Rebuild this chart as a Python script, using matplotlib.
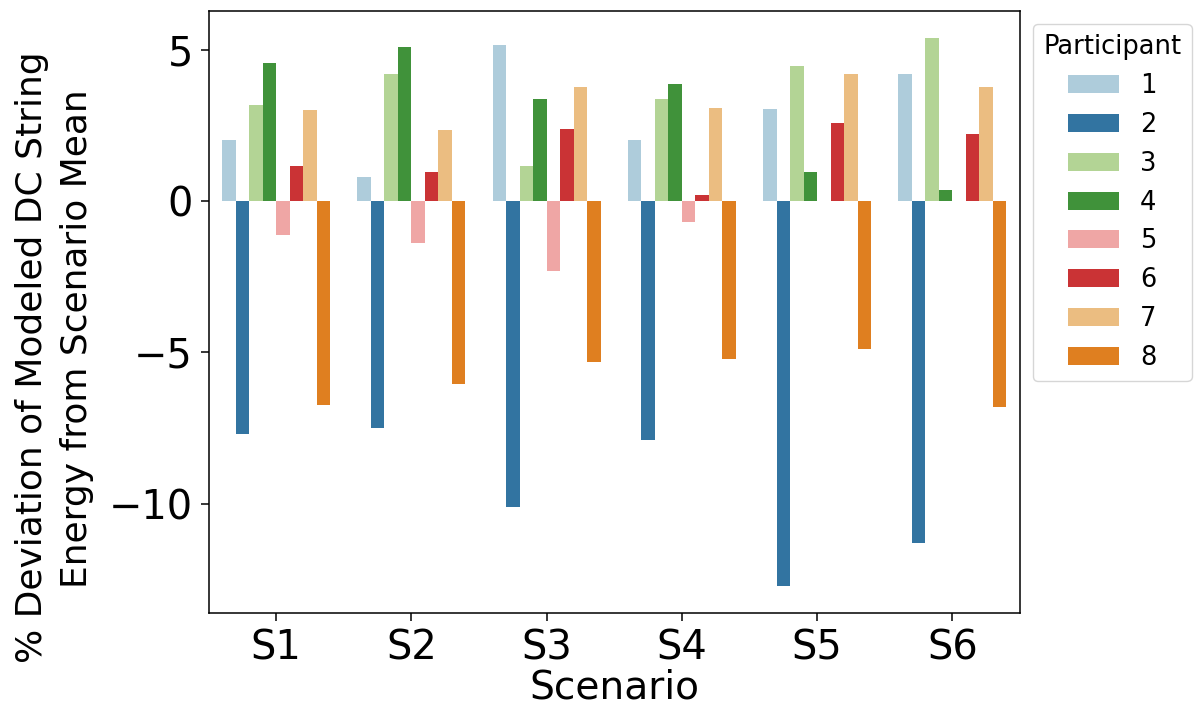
import numpy as np
import pandas as pd
import matplotlib
matplotlib.use("Agg")
import matplotlib.pyplot as plt
import seaborn as sns

scenarios = ["S1", "S2", "S3", "S4", "S5", "S6"]
participants = ["1", "2", "3", "4", "5", "6", "7", "8"]

# deviation (%) per participant, one value per scenario
p1 = [2.0, 0.8, 5.15, 2.0, 3.05, 4.2]
p2 = [-7.68, -7.48, -10.12, -7.9, -12.7, -11.3]
p3 = [3.17, 4.2, 1.17, 3.38, 4.46, 5.37]
p4 = [4.56, 5.1, 3.38, 3.86, 0.95, 0.36]
p5 = [-1.13, -1.4, -2.3, -0.7, np.nan, np.nan]
p6 = [1.17, 0.95, 2.37, 0.21, 2.58, 2.2]
p7 = [3.0, 2.36, 3.75, 3.06, 4.19, 3.75]
p8 = [-6.73, -6.03, -5.33, -5.22, -4.9, -6.79]

ylabel_lines = ["% Deviation of Modeled DC String", "Energy from Scenario Mean"]

series = [p1, p2, p3, p4, p5, p6, p7, p8]
rows = []
for pid, vals in zip(participants, series):
    for sc, v in zip(scenarios, vals):
        rows.append({"Scenario": sc, "Participant": pid, "Deviation": v})
df = pd.DataFrame(rows)

W, H = 1199, 712
fig = plt.figure(figsize=(W / 100, H / 100), dpi=100)
ax = fig.add_axes([208.5 / W, 1 - 613 / H, (1020 - 208.5) / W, (613 - 11) / H])

sns.barplot(data=df, x="Scenario", y="Deviation", hue="Participant",
            hue_order=participants, order=scenarios, palette="Paired", ax=ax)

ax.set_xlabel("Scenario", fontsize=28.2, labelpad=0)
ax.set_ylabel("")
ax.tick_params(axis="both", labelsize=28.7, width=1.1, length=5.8, pad=5.5)
ax.set_yticks([-10, -5, 0, 5])
for s in ax.spines.values():
    s.set_linewidth(1.1)

# two-line y-axis label, placed as in the reference
fig.text(42 / W, 1 - 357.5 / H, ylabel_lines[0], rotation=90, rotation_mode="anchor",
         ha="center", va="baseline", fontsize=25.9)
fig.text(87 / W, 1 - 339 / H, ylabel_lines[1], rotation=90, rotation_mode="anchor",
         ha="center", va="baseline", fontsize=25.9)

leg = ax.legend(title="Participant", loc="upper left", bbox_to_anchor=(1.0, 1.0),
                fontsize=18.5, title_fontsize=18.5)

fig.savefig("out.png", dpi=100)
